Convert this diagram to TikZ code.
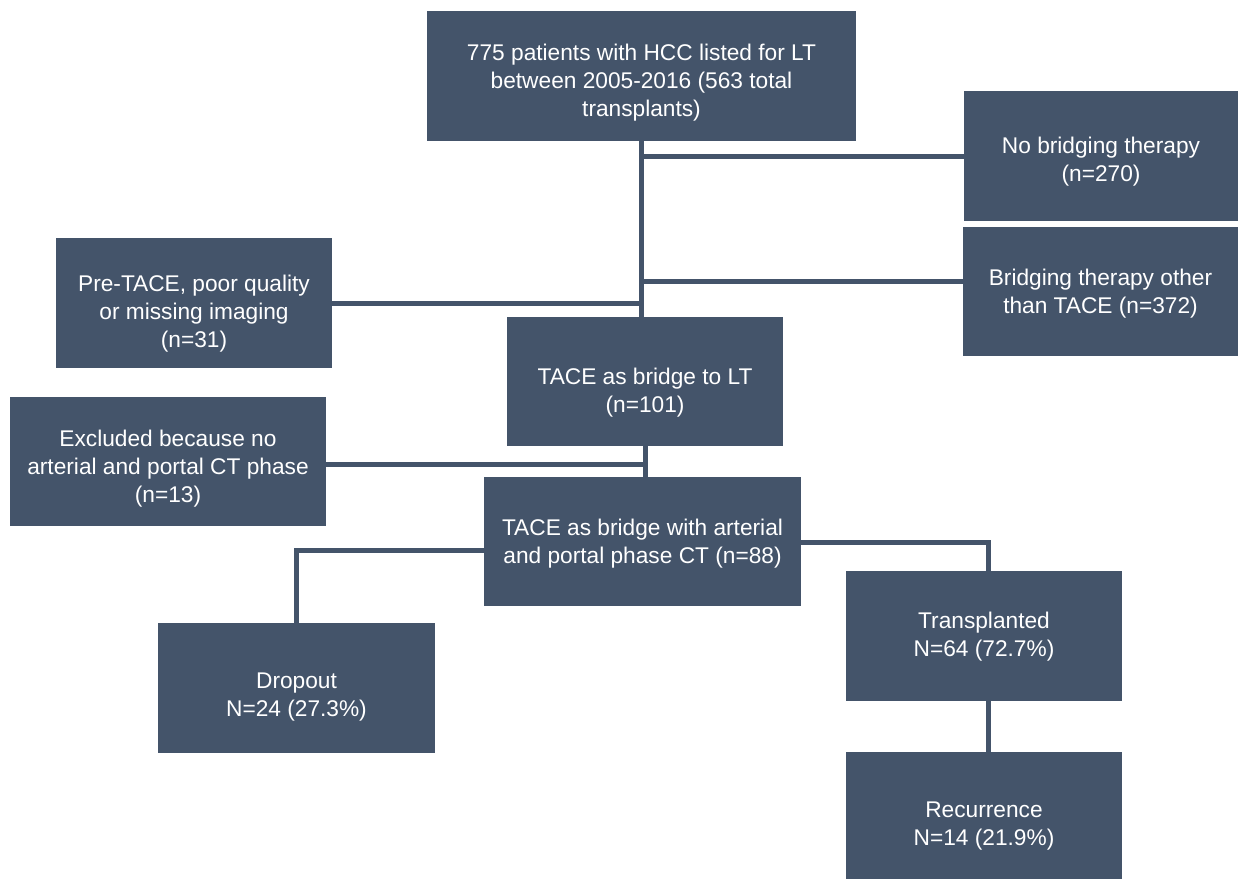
\documentclass[tikz,border=0pt]{standalone}
\usepackage{fontspec}
\setmainfont{Liberation Sans}
\usetikzlibrary{positioning,calc}
\definecolor{boxblue}{HTML}{44546A}

\begin{document}
\begin{tikzpicture}[x=1pt,y=-1pt]
\tikzset{flowbox/.style={fill=boxblue,text=white,align=center,inner sep=0pt,
  font=\fontsize{22.7}{28}\selectfont,minimum height=130pt,text depth=0pt}}
\tikzset{link/.style={draw=boxblue,line width=5pt}}
\useasboundingbox (0,0) rectangle (1238,879);
% boxes
\node[flowbox,minimum width=429pt,text height=80pt] (top) at (641.5,76) {775 patients with HCC listed for LT\\between 2005-2016 (563 total\\transplants)};
\node[flowbox,minimum width=274pt,text height=50pt] (nobr) at (1101,156) {No bridging therapy\\(n=270)};
\node[flowbox,minimum width=275pt,minimum height=129pt,text height=44pt] (other) at (1100.5,291.5) {Bridging therapy other\\than TACE (n=372)};
\node[flowbox,minimum width=276pt,text height=88pt] (pre) at (194,303) {Pre-TACE, poor quality\\or missing imaging\\(n=31)};
\node[flowbox,minimum width=276pt,minimum height=129pt,text height=62pt] (lt) at (645,381.5) {TACE as bridge to LT\\(n=101)};
\node[flowbox,minimum width=316pt,minimum height=129pt,text height=81pt] (excl) at (168,461.5) {Excluded because no\\arterial and portal CT phase\\(n=13)};
\node[flowbox,minimum width=317pt,minimum height=129pt,text height=44pt] (art) at (642.5,541.5) {TACE as bridge with arterial\\and portal phase CT (n=88)};
\node[flowbox,minimum width=277pt,text height=56pt] (drop) at (296.5,688) {Dropout\\N=24 (27.3\%)};
\node[flowbox,minimum width=276pt,text height=40pt] (tx) at (984,636) {Transplanted\\N=64 (72.7\%)};
\node[flowbox,minimum width=276pt,minimum height=127pt,text height=59pt] (rec) at (984,815.5) {Recurrence\\N=14 (21.9\%)};
% connectors
\draw[link] (top.south) -- (top.south |- lt.north);
\draw[link] (top.south |- nobr.west) -- (nobr.west);
\draw[link] ([yshift=10pt]top.south |- other.west) -- ([yshift=10pt]other.west);
\draw[link] (pre.east) -- (top.south |- pre.east);
\draw[link] (lt.south) -- (lt.south |- art.north);
\draw[link] ([yshift=-3pt]excl.east) -- ([yshift=-3pt]lt.south |- excl.east);
\draw[link] ([yshift=-9pt]art.west) -| (drop.north);
\draw[link] ([yshift=-1pt]art.east) -| ([xshift=4pt]tx.north);
\draw[link] ([xshift=4pt]tx.south) -- ([xshift=4pt]rec.north);
\end{tikzpicture}
\end{document}
